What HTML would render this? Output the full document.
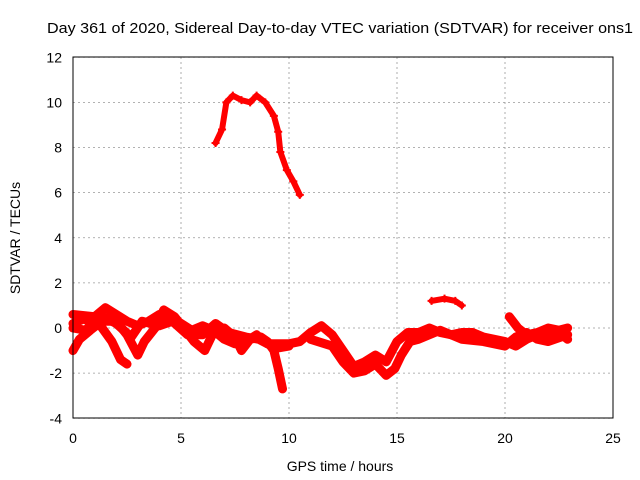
<!DOCTYPE html>
<html><head><meta charset="utf-8"><style>
body{margin:0;background:#fff}
svg{display:block;font-family:"Liberation Sans",sans-serif}
</style></head><body>
<svg id="c" width="640" height="480">
<text x="340" y="33" font-size="15" textLength="586" lengthAdjust="spacingAndGlyphs" text-anchor="middle">Day 361 of 2020, Sidereal Day-to-day VTEC variation (SDTVAR) for receiver ons1</text>
<text x="340" y="471" font-size="14" text-anchor="middle">GPS time / hours</text>
<text x="20" y="238" font-size="14" text-anchor="middle" transform="rotate(-90 20 238)">SDTVAR / TECUs</text>
<g id="grid"></g><g id="ticks"></g><g id="series"></g>
<rect x="73" y="57" width="540" height="361" fill="none" stroke="#000"/>
</svg>
<script>
const xTicks=[0,5,10,15,20,25];
const yTicks=[-4,-2,0,2,4,6,8,10,12];
const trackArc=[[6.6,8.2],[6.9,8.8],[7.1,10],[7.4,10.3],[7.8,10.1],[8.2,10.0],[8.5,10.3],[8.9,10.0],[9.3,9.4],[9.5,8.7],[9.6,7.8],[9.9,7.0],[10.2,6.5],[10.5,5.9]];
const trackSmall=[[16.6,1.2],[17.2,1.3],[17.7,1.2],[18.0,1.0]];
const trackA=[[0,-1.0],[0.3,-0.5],[0.8,-0.1],[1.2,0.2],[1.5,-0.2],[1.8,-0.6],[2.2,-1.4],[2.5,-1.6]];
const trackB=[[0,0.6],[1,0.5],[1.5,0.9],[2,0.6],[2.5,0.3],[3,0.1],[3.5,0.3],[4,0.6],[4.5,0.5],[5,0.2],[5.5,-0.1],[6,0.1],[6.5,-0.1],[7,-0.5],[7.5,-0.7],[8,-0.6],[8.5,-0.3],[9,-0.7],[9.5,-0.7],[10,-0.7],[10.5,-0.6],[11,-0.2],[11.5,0.1],[12,-0.3],[12.5,-1],[13,-1.7],[13.5,-1.5],[14,-1.2],[14.5,-1.5],[15,-0.6],[15.5,-0.2],[16,-0.2],[16.5,0],[17,-0.2],[17.5,-0.3],[18,-0.2],[18.5,-0.2],[19,-0.4],[19.5,-0.5],[20,-0.6],[20.5,-0.8],[21,-0.5],[21.5,-0.3],[22,-0.3],[22.5,-0.2],[22.9,-0.5]];
const trackC=[[0,0.2],[0.5,0.4],[1,0.2],[1.5,0.3],[2,0.3],[2.5,-0.3],[3,-1.2],[3.3,-0.6],[3.8,0],[4.2,0.8],[4.7,0.5],[5.2,-0.1],[5.6,-0.6],[6.1,-1.0],[6.5,-0.2],[7,0.0],[7.5,-0.4],[7.8,-1.0],[8.2,-0.5],[8.7,-0.4],[9,-0.6],[9.3,-1.0],[9.5,-1.8],[9.7,-2.7]];
const trackF=[[0,0],[0.6,-0.1],[1.2,0.6],[2,0.2],[2.7,-0.4],[3.2,0.3],[4,0.1],[4.6,0.3],[5.3,-0.3],[6,-0.3],[6.6,0.2],[7.2,-0.2],[8,-0.4],[8.6,-0.5],[9.4,-0.9],[10,-0.8]];
const trackD=[[11,-0.5],[12,-0.8],[12.5,-1.5],[13,-2.0],[13.5,-1.9],[14,-1.6],[14.5,-2.1],[14.9,-1.8],[15.2,-1.2],[15.6,-0.6],[16,-0.5],[17,-0.1],[18,-0.5],[19,-0.6],[20,-0.8],[20.5,-0.4],[21,-0.2],[21.5,-0.5],[22,-0.6],[22.9,-0.3]];
const trackE=[[20.2,0.5],[20.6,0],[21,-0.3],[21.5,-0.2],[22,0],[22.5,-0.1],[22.9,0]];
const tracks=[trackA,trackB,trackC,trackF,trackD,trackE];
const sparse=[trackArc,trackSmall];
const X=v=>73+v*21.6, Y=v=>328-v*22.5625;
const NS="http://www.w3.org/2000/svg";
function mk(t,a,p){const e=document.createElementNS(NS,t);for(const k in a)e.setAttribute(k,a[k]);p.appendChild(e);return e;}
const g=document.getElementById('grid'),tk=document.getElementById('ticks'),s=document.getElementById('series');
xTicks.forEach(v=>{
 const l=mk('line',{x1:X(v),x2:X(v),y1:57,y2:418,stroke:'#999','stroke-dasharray':'2,3','stroke-width':0.8},g);
 
 
 const t=mk('text',{x:X(v),y:443,'font-size':14,'text-anchor':'middle'},tk);t.textContent=v;
 
 
});
yTicks.forEach(v=>{
 const l=mk('line',{x1:73,x2:613,y1:Y(v),y2:Y(v),stroke:'#999','stroke-dasharray':'2,3','stroke-width':0.8},g);
 
 
 const t=mk('text',{x:62,y:Y(v)+5,'font-size':14,'text-anchor':'end'},tk);t.textContent=v;
 
 
});
function draw(tr,w){
 const p=mk('polyline',{points:tr.map(d=>X(d[0])+','+Y(d[1])).join(' '),fill:'none',stroke:'#f00','stroke-width':w,'stroke-linejoin':'round','stroke-linecap':'round'},s);
 
 
 tr.forEach(d=>{
  const m=mk('path',{d:`M${X(d[0])-4},${Y(d[1])}h8M${X(d[0])},${Y(d[1])-4}v8`,stroke:'#f00','stroke-width':2},s);
  
  
 });
}
tracks.forEach(tr=>draw(tr,9));
sparse.forEach(tr=>draw(tr,6));
</script>
</body></html>
